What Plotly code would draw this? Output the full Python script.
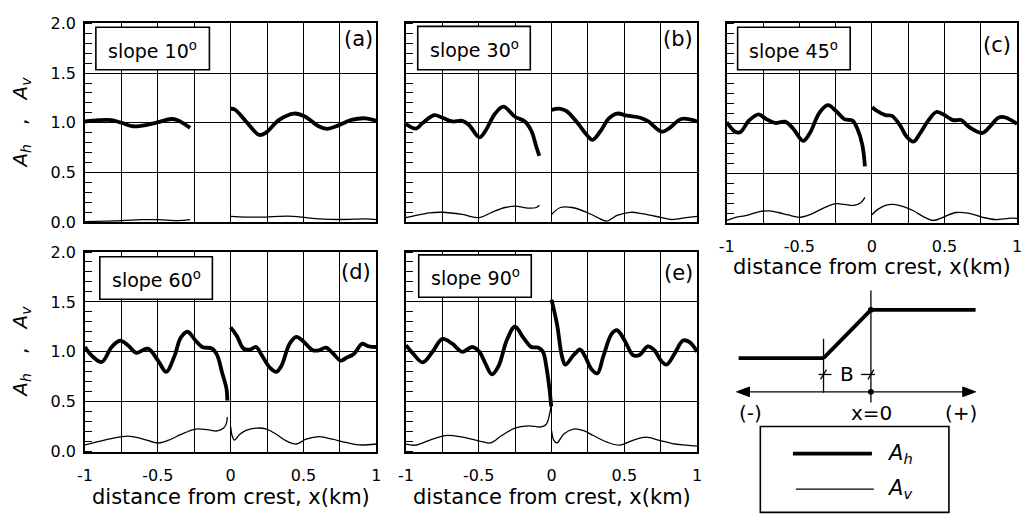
import plotly.graph_objects as go

# ---------------- data ----------------
# panel (a) slope 10
A_AH_L_X = [-1.0, -0.907, -0.817, -0.749, -0.670, -0.568, -0.495, -0.41, -0.364, -0.278]
A_AH_L_Y = [1.013, 1.026, 1.026, 1.0, 0.965, 0.981, 1.006, 1.038, 1.026, 0.949]
A_AH_R_X = [0.0, 0.027, 0.106, 0.197, 0.242, 0.333, 0.434, 0.513, 0.604, 0.661, 0.74, 0.83, 0.925, 1.0]
A_AH_R_Y = [1.141, 1.135, 1.013, 0.878, 0.90, 1.029, 1.093, 1.061, 0.965, 0.939, 0.974, 1.029, 1.045, 1.019]
A_AV_L_X = [-1.0, -0.749, -0.613, -0.495, -0.364, -0.278]
A_AV_L_Y = [0.005, 0.015, 0.024, 0.024, 0.015, 0.024]
A_AV_R_X = [0.0, 0.106, 0.242, 0.333, 0.43, 0.518, 0.609, 0.756, 0.925, 1.0]
A_AV_R_Y = [0.058, 0.051, 0.051, 0.058, 0.058, 0.045, 0.032, 0.026, 0.032, 0.026]

# panel (b) slope 30
B_AH_L_X = [-1.0, -0.93, -0.885, -0.805, -0.749, -0.681, -0.613, -0.568, -0.495, -0.455, -0.387, -0.330, -0.251, -0.183, -0.138, -0.104, -0.084]
B_AH_L_Y = [0.987, 0.942, 0.997, 1.077, 1.051, 1.013, 1.019, 0.981, 0.853, 0.917, 1.093, 1.163, 1.061, 1.013, 0.917, 0.756, 0.667]
B_AH_R_X = [0.0, 0.061, 0.106, 0.179, 0.247, 0.281, 0.337, 0.394, 0.45, 0.518, 0.609, 0.665, 0.756, 0.812, 0.891, 1.0]
B_AH_R_Y = [1.131, 1.141, 1.115, 0.997, 0.869, 0.827, 0.917, 1.045, 1.093, 1.071, 1.051, 1.013, 0.910, 0.949, 1.038, 1.013]
B_AV_L_X = [-1.0, -0.93, -0.839, -0.749, -0.613, -0.495, -0.41, -0.319, -0.251, -0.161, -0.104, -0.084]
B_AV_L_Y = [0.045, 0.067, 0.093, 0.099, 0.077, 0.045, 0.099, 0.147, 0.160, 0.141, 0.147, 0.170]
B_AV_R_X = [0.0, 0.061, 0.140, 0.242, 0.31, 0.378, 0.45, 0.541, 0.631, 0.756, 0.824, 0.925, 1.0]
B_AV_R_Y = [0.077, 0.147, 0.147, 0.099, 0.051, 0.010, 0.067, 0.099, 0.083, 0.045, 0.026, 0.045, 0.058]

# panel (c) slope 45
C_AH_L_X = [-1.0, -0.939, -0.905, -0.848, -0.78, -0.735, -0.667, -0.599, -0.542, -0.474, -0.429, -0.361, -0.304, -0.247, -0.190, -0.134, -0.1, -0.066, -0.048]
C_AH_L_Y = [1.01, 0.913, 0.913, 1.026, 1.09, 1.048, 1.003, 1.016, 0.945, 0.823, 0.897, 1.106, 1.181, 1.123, 1.042, 1.026, 0.945, 0.784, 0.568]
C_AH_R_X = [0.002, 0.036, 0.093, 0.138, 0.195, 0.24, 0.286, 0.331, 0.388, 0.444, 0.49, 0.558, 0.615, 0.671, 0.762, 0.819, 0.875, 0.921, 1.0]
C_AH_R_Y = [1.161, 1.123, 1.081, 1.074, 0.977, 0.865, 0.816, 0.897, 1.026, 1.113, 1.09, 1.032, 1.032, 0.961, 0.903, 0.977, 1.058, 1.058, 0.994]
C_AV_L_X = [-1.0, -0.939, -0.871, -0.78, -0.712, -0.644, -0.576, -0.497, -0.417, -0.327, -0.247, -0.19, -0.122, -0.077, -0.048]
C_AV_L_Y = [0.026, 0.058, 0.074, 0.113, 0.123, 0.106, 0.081, 0.058, 0.09, 0.155, 0.194, 0.187, 0.177, 0.203, 0.258]
C_AV_R_X = [0.0, 0.036, 0.093, 0.15, 0.218, 0.286, 0.354, 0.422, 0.49, 0.58, 0.671, 0.762, 0.853, 0.943, 1.0]
C_AV_R_Y = [0.084, 0.132, 0.177, 0.187, 0.165, 0.123, 0.065, 0.026, 0.058, 0.106, 0.097, 0.058, 0.035, 0.048, 0.048]

# panel (d) slope 60
D_AH_L_X = [-1.0, -0.952, -0.885, -0.817, -0.760, -0.704, -0.647, -0.568, -0.495, -0.443, -0.387, -0.342, -0.296, -0.240, -0.195, -0.127, -0.093, -0.059, -0.029, -0.023]
D_AH_L_Y = [1.048, 0.959, 0.898, 1.048, 1.111, 1.064, 0.990, 1.032, 0.904, 0.799, 0.952, 1.143, 1.201, 1.111, 1.048, 1.032, 0.968, 0.793, 0.634, 0.513]
D_AH_R_X = [0.0, 0.043, 0.088, 0.133, 0.174, 0.213, 0.269, 0.314, 0.348, 0.405, 0.450, 0.495, 0.563, 0.609, 0.654, 0.699, 0.756, 0.790, 0.846, 0.903, 0.948, 1.0]
D_AH_R_Y = [1.245, 1.159, 1.032, 1.022, 1.048, 0.968, 0.841, 0.799, 0.857, 1.080, 1.150, 1.111, 1.016, 1.016, 1.041, 0.990, 0.911, 0.936, 0.978, 1.080, 1.054, 1.048]
D_AV_L_X = [-1.0, -0.93, -0.839, -0.704, -0.613, -0.495, -0.41, -0.342, -0.24, -0.161, -0.093, -0.048, -0.029, -0.023]
D_AV_L_Y = [0.067, 0.092, 0.124, 0.156, 0.131, 0.086, 0.124, 0.172, 0.226, 0.22, 0.207, 0.236, 0.283, 0.347]
D_AV_R_X = [0.0, 0.011, 0.027, 0.061, 0.106, 0.179, 0.247, 0.315, 0.382, 0.45, 0.518, 0.609, 0.699, 0.79, 0.88, 1.0]
D_AV_R_Y = [0.252, 0.156, 0.115, 0.172, 0.213, 0.236, 0.226, 0.172, 0.108, 0.076, 0.124, 0.150, 0.124, 0.092, 0.067, 0.076]

# panel (e) slope 90
E_AH_L_X = [-1.0, -0.952, -0.885, -0.817, -0.749, -0.681, -0.613, -0.545, -0.495, -0.455, -0.41, -0.364, -0.308, -0.251, -0.195, -0.138, -0.093, -0.059, -0.036, -0.014, -0.002]
E_AH_L_Y = [1.065, 0.984, 0.894, 1.0, 1.129, 1.081, 1.0, 1.048, 1.0, 0.887, 0.774, 0.855, 1.113, 1.252, 1.145, 1.048, 1.042, 1.0, 0.855, 0.629, 0.452]
E_AH_R_X = [0.0, 0.038, 0.072, 0.095, 0.152, 0.197, 0.231, 0.276, 0.315, 0.355, 0.412, 0.45, 0.502, 0.559, 0.604, 0.661, 0.706, 0.756, 0.790, 0.846, 0.903, 0.948, 1.0]
E_AH_R_Y = [1.523, 1.274, 0.952, 0.871, 0.968, 1.023, 0.952, 0.823, 0.784, 0.952, 1.177, 1.216, 1.113, 0.968, 0.968, 1.055, 1.016, 0.903, 0.871, 0.984, 1.113, 1.097, 1.0]
E_AV_L_X = [-1.0, -0.93, -0.839, -0.726, -0.613, -0.495, -0.421, -0.342, -0.251, -0.161, -0.07, -0.036, -0.014, -0.002]
E_AV_L_Y = [0.074, 0.065, 0.113, 0.161, 0.145, 0.106, 0.087, 0.161, 0.235, 0.258, 0.248, 0.274, 0.371, 0.468]
E_AV_R_X = [0.0, 0.016, 0.038, 0.084, 0.152, 0.22, 0.287, 0.378, 0.468, 0.559, 0.649, 0.74, 0.83, 0.925, 1.0]
E_AV_R_Y = [0.21, 0.113, 0.087, 0.177, 0.226, 0.21, 0.161, 0.097, 0.065, 0.113, 0.145, 0.113, 0.081, 0.065, 0.055]

SLOPES = ["10", "30", "45", "60", "90"]
PANEL_TAGS = ["(a)", "(b)", "(c)", "(d)", "(e)"]
X_TICKS = [-1, -0.5, 0, 0.5, 1]
X_TICKTEXT = ["-1", "-0.5", "0", "0.5", "1"]
Y_TICKS = [0, 0.5, 1.0, 1.5, 2.0]
Y_TICKTEXT = ["0.0", "0.5", "1.0", "1.5", "2.0"]

# ---------------- layout helpers ----------------
W, H = 1025, 532
FONT = "DejaVu Sans"


def px(x):
    return x / W


def py(y):
    return 1 - y / H


# panel pixel boxes: left, right, top, bottom
BOXES = [(78, 373, 15, 221), (403, 698, 15, 221), (728, 1022, 15, 222),
         (78, 373, 252, 459), (403, 698, 252, 459)]
# slope label boxes: left, right, top, bottom (pixels)
LABEL_BOXES = [(89, 204, 19, 63), (415, 529, 18, 63), (739, 853, 19, 63),
               (93, 207, 257, 301), (416, 530, 255, 299)]
# panel tag right edge / vertical centre (pixels)
TAG_POS = [(372, 31), (696, 31), (1018, 37), (370, 273), (696, 274)]
SHOW_X = [False, False, True, True, True]
SHOW_Y = [True, False, False, True, False]

panels = [
    (A_AH_L_X, A_AH_L_Y, A_AH_R_X, A_AH_R_Y, A_AV_L_X, A_AV_L_Y, A_AV_R_X, A_AV_R_Y),
    (B_AH_L_X, B_AH_L_Y, B_AH_R_X, B_AH_R_Y, B_AV_L_X, B_AV_L_Y, B_AV_R_X, B_AV_R_Y),
    (C_AH_L_X, C_AH_L_Y, C_AH_R_X, C_AH_R_Y, C_AV_L_X, C_AV_L_Y, C_AV_R_X, C_AV_R_Y),
    (D_AH_L_X, D_AH_L_Y, D_AH_R_X, D_AH_R_Y, D_AV_L_X, D_AV_L_Y, D_AV_R_X, D_AV_R_Y),
    (E_AH_L_X, E_AH_L_Y, E_AH_R_X, E_AH_R_Y, E_AV_L_X, E_AV_L_Y, E_AV_R_X, E_AV_R_Y),
]

fig = go.Figure()
annotations = []
shapes = []
THICK = 3.8
THIN = 1.3


def line(x0, y0, x1, y1, w):
    shapes.append(dict(type="line", xref="paper", yref="paper",
                       x0=px(x0), y0=py(y0), x1=px(x1), y1=py(y1),
                       line=dict(color="black", width=w)))


def poly(pts):
    d = "M " + " L ".join(f"{px(a)},{py(b)}" for a, b in pts) + " Z"
    shapes.append(dict(type="path", xref="paper", yref="paper", path=d,
                       fillcolor="black", line=dict(color="black", width=1)))


def dot(x, y, rr=3):
    shapes.append(dict(type="circle", xref="paper", yref="paper",
                       x0=px(x - rr), x1=px(x + rr), y0=py(y + rr), y1=py(y - rr),
                       fillcolor="black", line=dict(color="black", width=0)))


def text(x, y, s, size=20, anchor="center", angle=0):
    annotations.append(dict(x=px(x), y=py(y), xref="paper", yref="paper",
                            xanchor=anchor, yanchor="middle", showarrow=False, text=s,
                            textangle=angle,
                            font=dict(family=FONT, size=size, color="black")))


for i, p in enumerate(panels):
    n = "" if i == 0 else str(i + 1)
    xa, ya = "x" + n, "y" + n
    ahlx, ahly, ahrx, ahry, avlx, avly, avrx, avry = p
    for xs, ys, w in [(ahlx, ahly, THICK), (ahrx, ahry, THICK), (avlx, avly, THIN), (avrx, avry, THIN)]:
        fig.add_trace(go.Scatter(x=xs, y=ys, mode="lines", xaxis=xa, yaxis=ya,
                                 line=dict(color="black", width=w, shape="spline", smoothing=1.0),
                                 showlegend=False, hoverinfo="skip"))
    l, r, t, b = BOXES[i]
    fig.layout["xaxis" + n] = dict(
        domain=[px(l), px(r)], range=[-1, 1], anchor=ya,
        tickmode="array", tickvals=X_TICKS, ticktext=X_TICKTEXT,
        showticklabels=SHOW_X[i], ticks="", ticklabelstandoff=8,
        tickfont=dict(family=FONT, size=16, color="black"),
        showgrid=True, gridcolor="black", gridwidth=1, zeroline=False,
        showline=True, linecolor="black", linewidth=1.8, mirror=True,
        minor=dict(tickmode="linear", tick0=-1, dtick=0.25, ticks="",
                   showgrid=True, gridcolor="black", gridwidth=1),
    )
    fig.layout["yaxis" + n] = dict(
        domain=[py(b), py(t)], range=[0, 2], anchor=xa,
        tickmode="array", tickvals=Y_TICKS, ticktext=Y_TICKTEXT,
        showticklabels=SHOW_Y[i], ticks="", ticklabelstandoff=4,
        tickfont=dict(family=FONT, size=16, color="black"),
        showgrid=True, gridcolor="black", gridwidth=1, zeroline=False,
        showline=True, linecolor="black", linewidth=1.8, mirror=True,
        minor=dict(tickmode="linear", tick0=0, dtick=0.1, ticks="inside",
                   ticklen=7, tickwidth=1, tickcolor="black", showgrid=False),
    )
    # slope label box
    bl, br, bt, bb = LABEL_BOXES[i]
    shapes.append(dict(type="rect", xref="paper", yref="paper",
                       x0=px(bl), x1=px(br), y0=py(bb), y1=py(bt),
                       fillcolor="white", line=dict(color="black", width=1.6), layer="above"))
    text((bl + br) / 2, (bt + bb) / 2 + 1, "slope " + SLOPES[i] + "<sup>o</sup>", 19)
    # panel tag
    tx, tyy = TAG_POS[i]
    text(tx, tyy, PANEL_TAGS[i], 21, "right")
    # axis titles
    if SHOW_X[i]:
        text((l + r) / 2, 268 if i == 2 else 506, "distance from crest, x(km)", 21)
    if SHOW_Y[i]:
        text(13, (t + b) / 2,
             "<i>A<sub>h</sub></i>\u00a0\u00a0\u00a0,\u00a0\u00a0\u00a0<i>A<sub>v</sub></i>",
             20, "center", -90)

# ---------------- schematic (lower right) ----------------
# ground profile
line(740, 362, 826, 362, THICK)
line(826, 362, 874, 312, THICK)
line(874, 312, 980, 312, THICK)
# verticals
line(874, 292, 874, 408, THIN)
line(826, 342, 826, 398, THIN)
# x axis with arrows
line(748, 397, 970, 397, THIN)
poly([(738, 397), (751, 392), (751, 402)])
poly([(980, 397), (967, 392), (967, 402)])
dot(874, 312)
dot(874, 397)
# dimension marks for B
line(821, 379, 834, 379, THIN)
line(864, 379, 878, 379, THIN)
line(823, 384, 829, 374, THIN)
line(871, 384, 877, 374, THIN)
text(850, 379, "B", 20)
text(752, 419, "(-)", 20)
text(875, 419, "x=0", 20)
text(965, 419, "(+)", 20)

# legend box
shapes.append(dict(type="rect", xref="paper", yref="paper",
                   x0=px(762), x1=px(953), y0=py(522), y1=py(433),
                   line=dict(color="black", width=1.6)))
line(795, 461, 875, 461, THICK)
line(798, 498, 877, 498, THIN)
text(888, 461, "<i>A<sub>h</sub></i>", 21, "left")
text(888, 498, "<i>A<sub>v</sub></i>", 21, "left")

fig.update_layout(
    width=W, height=H, margin=dict(l=0, r=0, t=0, b=0),
    paper_bgcolor="white", plot_bgcolor="white",
    font=dict(family=FONT, color="black"),
    annotations=annotations, shapes=shapes, showlegend=False,
)

fig.write_html("out.html")
